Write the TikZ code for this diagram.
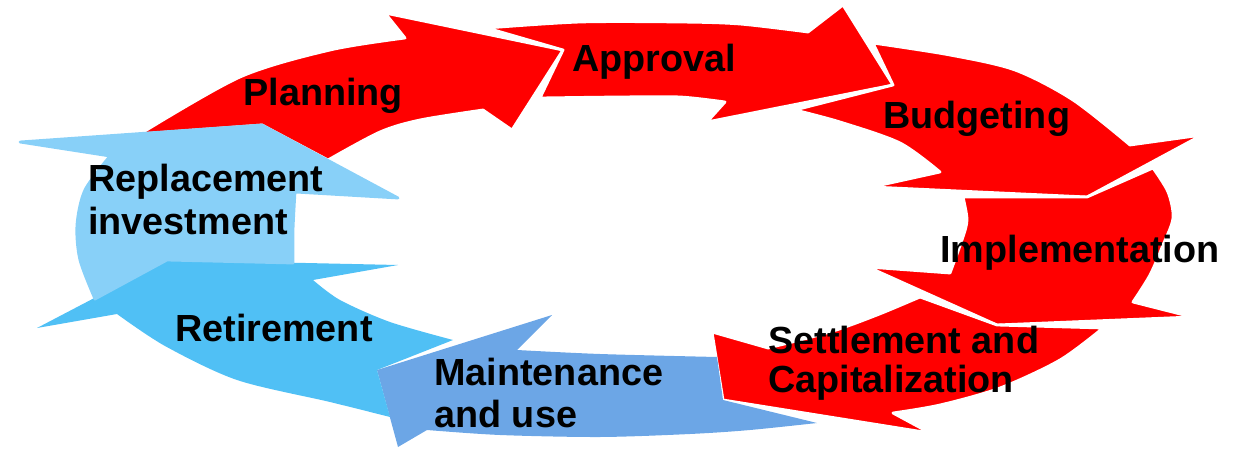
\documentclass[tikz,border=0pt]{standalone}
\usepackage{fontspec}
\setmainfont{Liberation Sans}
\definecolor{arrred}{RGB}{255,0,0}
\definecolor{maintblue}{RGB}{108,166,230}
\definecolor{retblue}{RGB}{80,192,245}
\definecolor{repblue}{RGB}{136,208,248}
\tikzset{
  redarrow/.style={fill=arrred, draw=white, line width=1.6pt, line join=round},
  bluearrow/.style={fill=#1, line join=round},
  lbl/.style={font=\fontsize{21.5}{#1}\selectfont\bfseries, text=black, inner sep=0pt, anchor=base west, align=left},
  lbl/.default=24
}
\begin{document}
\begin{tikzpicture}[x=0.02cm,y=-0.02cm]
\useasboundingbox (0,0) rectangle (1241,456);
% Planning
\path[redarrow] plot[smooth] coordinates {(140,134) (240,77) (330,50) (405,38)} -- (385,13) -- (563,50) -- (512,130)
  -- plot[smooth] coordinates {(483,110) (420,120) (380,132) (328,160)} -- (262,125) -- cycle;
% Approval
\path[redarrow] (487,28) -- (563,50) -- (540,98) -- plot[smooth] coordinates {(540,98) (620,97) (680,97) (725,102)}
  -- (707,122) -- (893,85) -- (843,5) -- plot[smooth] coordinates {(808,32) (740,24) (680,22) (580,22) (487,28)} -- cycle;
% Budgeting
\path[redarrow] (873,43) -- (893,85) -- (795,110) -- plot[smooth] coordinates {(795,110) (840,122) (900,143) (940,172)}
  -- (872,187) -- (1087,197) -- (1202,135) -- plot[smooth] coordinates {(1130,145) (1073,100) (1015,70) (950,55) (873,43)} -- cycle;
% Implementation
\path[redarrow] (963,197) -- (1087,197) -- (1153,168) -- plot[smooth] coordinates {(1153,168) (1168,192) (1173,218) (1163,245) (1150,275) (1133,302)}
  -- (1192,317) -- (997,325) -- (868,267) -- plot[smooth] coordinates {(950,273) (962,240) (967,220) (963,197)} -- cycle;
% Settlement and Capitalization
\path[redarrow] (920,297) -- (997,325) -- (1103,328) -- plot[smooth] coordinates {(1103,328) (1060,360) (1000,388) (940,405) (893,413)}
  -- (930,433) -- (723,400) -- (712,332) -- plot[smooth] coordinates {(768,348) (830,332) (877,315) (920,297)} -- cycle;
% Maintenance and use
\path[bluearrow=maintblue] (717,357) -- (723,400) -- (817,423) -- plot[smooth] coordinates {(817,423) (750,430) (690,434) (600,437) (500,435) (427,430)}
  -- (398,447) -- (377,370) -- (552,315) -- plot[smooth] coordinates {(517,350) (600,354) (717,357)} -- cycle;
% Retirement
\path[bluearrow=retblue] (453,340) -- (377,370) -- (390,417) -- plot[smooth] coordinates {(390,417) (330,402) (237,380) (165,346) (117,314)}
  -- (37,328) -- (167,260) -- (398,265) -- plot[smooth] coordinates {(313,280) (340,300) (390,322) (453,340)} -- cycle;
% Replacement investment
\path[bluearrow=repblue, draw=repblue, line width=1.6pt] (293,263) -- (167,260) -- (95,299) -- plot[smooth] coordinates {(95,299) (80,260) (77,225) (85,190) (110,156)}
  -- (20,142) -- (262,125) -- (398,198) -- plot[smooth] coordinates {(295,192) (293,230) (293,263)} -- cycle;
% Labels
\node[lbl] (planning) at (243,106) {Planning};
\node[lbl] (approval) at (572,72) {Approval};
\node[lbl] (budgeting) at (883,129) {Budgeting};
\node[lbl] (implementation) at (940,262) {Implementation};
\node[lbl=22.1] (settlement) at (768,392) {Settlement and\\Capitalization};
\node[lbl=23.8] (maintenance) at (434,427) {Maintenance\\and use};
\node[lbl] (retirement) at (175,341) {Retirement};
\node[lbl=25] (replacement) at (88,235) {Replacement\\investment};
\end{tikzpicture}
\end{document}
